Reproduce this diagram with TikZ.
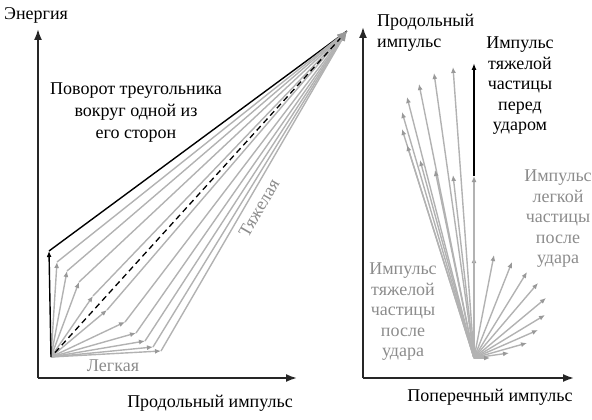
\documentclass[tikz,border=0pt]{standalone}
\usepackage{fontspec}
\setmainfont{Liberation Serif}
\usetikzlibrary{positioning,arrows.meta}
\definecolor{vecgray}{gray}{0.7}
\definecolor{headgray}{gray}{0.6}
\definecolor{notegray}{gray}{0.55}

\begin{document}
\begin{tikzpicture}[x=1pt, y=-1pt, font=\fontsize{18}{21}\selectfont]
	\tikzstyle{axis} = [draw, line width=1.8pt, black!85, -{Latex[length=11pt,width=8pt]}]
	\tikzstyle{vec} = [draw, vecgray, line width=1.4pt, -{Latex[length=6pt,width=5pt,color=headgray]}]
	\tikzstyle{side} = [draw, vecgray, line width=1.4pt, -{Latex[length=10pt,width=7pt,color=headgray]}]
	\tikzstyle{note} = [align=center, inner sep=0pt]
	\tikzstyle{grey note} = [note, text=notegray]

	\useasboundingbox (0,0) rectangle (592,420);

	    % Left diagram: points
	    \coordinate (A0) at (38,378);
	    \coordinate (Atop) at (38,29);
	    \coordinate (Aright) at (297,378);
	    \coordinate (O) at (51,357);
	    \coordinate (P) at (347,31);
	    \coordinate (L0) at (49,251);
	    \foreach \x/\y [count=\i] in {57/262, 67/271, 79/282, 93/296, 107/310, 125/322, 136/333, 145/341, 153/347, 161/351}
	        \coordinate (L\i) at (\x,\y);

	    % Right diagram: points
	    \coordinate (B0) at (363,378);
	    \coordinate (Btop) at (363,27);
	    \coordinate (Bright) at (574,378);
	    \coordinate (Q) at (474,358);
	    \coordinate (Qtop) at (474,63);
	    \coordinate (Qmid) at (474,176);
	    \foreach \x/\y [count=\i] in {453/67, 434/73, 419/84, 407/97, 402/112, 402/129, 407/145, 420/160, 435/170, 453/175}
	        \coordinate (H\i) at (\x,\y);
	    \foreach \x/\y [count=\i] in {474/257, 494/255, 512/262, 527/272, 538/283, 546/298, 545/315, 538/330, 527/343, 509/353, 490/358}
	        \coordinate (K\i) at (\x,\y);

	    % Place nodes
	    \node [note, anchor=west] (energy) at (4,15) {Энергия};
	    \node [note] (plong) at (210,403) {Продольный импульс};
	    \node [note, font=\fontsize{18}{22}\selectfont] (turn) at (136,113) {Поворот треугольника\\вокруг одной из\\его сторон};
	    \node [grey note] (light) at (113,366) {Легкая};
	    \node [grey note, rotate=60] (heavy) at (259,208) {Тяжелая};

	    \node [note, align=left, anchor=west] (plong2) at (377,33) {Продольный\\импульс};
	    \node [note, font=\fontsize{18}{20.5}\selectfont] (before) at (520,86) {Импульс\\тяжелой\\частицы\\перед\\ударом};
	    \node [grey note, font=\fontsize{18}{20.5}\selectfont] (lafter) at (558,219) {Импульс\\легкой\\частицы\\после\\удара};
	    \node [grey note, font=\fontsize{18}{20.5}\selectfont] (hafter) at (403,312) {Импульс\\тяжелой\\частицы\\после\\удара};
	    \node [note] (ptrans) at (490,397) {Поперечный импульс};

	    % Draw edges: left
	    \path [axis] (A0) -- (Atop);
	    \path [axis] (A0) -- (Aright);
	    \draw [black, line width=1.4pt] (L0) -- (P);
	    \foreach \i in {1,...,10} {
	        \path [side] (L\i) -- (P);
	        \path [vec] (O) -- (L\i);
	    }
	    \path [draw, black, line width=1.4pt, -{Latex[length=6pt,width=5pt]}] (O) -- (L0);
	    \draw [black, line width=1.3pt, dash pattern=on 6pt off 4pt, shorten <=6pt, shorten >=10pt] (O) -- (P);

	    % Draw edges: right
	    \path [axis] (B0) -- (Btop);
	    \path [axis] (B0) -- (Bright);
	    \foreach \i in {1,...,10}
	        \path [vec] (Q) -- (H\i);
	    \foreach \i in {1,...,11}
	        \path [vec] (Q) -- (K\i);
	    \path [vec] (Q) -- (Qmid);
	    \path [draw, black, line width=1.4pt, -{Latex[length=7pt,width=5pt]}] (Qmid) -- (Qtop);

\end{tikzpicture}
\end{document}
